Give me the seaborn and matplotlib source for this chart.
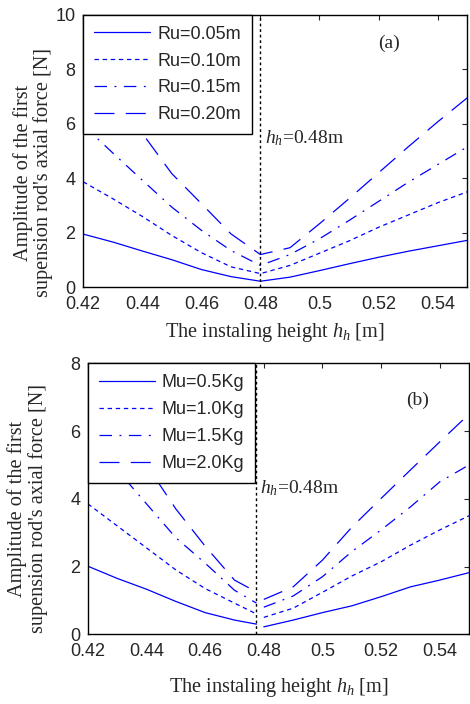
import numpy as np
import pandas as pd
import matplotlib
matplotlib.use('Agg')
import matplotlib.pyplot as plt
import seaborn as sns
from matplotlib.ticker import FuncFormatter

# panel (a): Ru varies, V shape with minimum at 0.48
x_a = [0.42, 0.43, 0.44, 0.45, 0.46, 0.47, 0.48, 0.49, 0.50, 0.51, 0.52, 0.53, 0.54, 0.55]
ru_labels = ['Ru=0.05m', 'Ru=0.10m', 'Ru=0.15m', 'Ru=0.20m']
ru_005 = [1.95, 1.66, 1.33, 1.01, 0.65, 0.39, 0.22, 0.37, 0.61, 0.86, 1.10, 1.32, 1.52, 1.72]
ru_010 = [3.87, 3.25, 2.60, 1.90, 1.27, 0.75, 0.50, 0.80, 1.25, 1.70, 2.20, 2.65, 3.10, 3.50]
ru_015 = [5.95, 4.93, 3.93, 2.94, 2.09, 1.35, 0.80, 1.20, 1.78, 2.45, 3.15, 3.85, 4.50, 5.15]
ru_020 = [8.00, 6.90, 5.65, 4.17, 3.07, 1.96, 1.20, 1.45, 2.33, 3.25, 4.20, 5.15, 6.07, 6.95]

# panel (b): Mu varies, left branch stops at 0.4775, right branch from 0.48
x_b_left = [0.42, 0.43, 0.44, 0.45, 0.46, 0.47, 0.4775]
x_b_right = [0.48, 0.49, 0.50, 0.51, 0.52, 0.53, 0.54, 0.55]
mu_labels = ['Mu=0.5Kg', 'Mu=1.0Kg', 'Mu=1.5Kg', 'Mu=2.0Kg']
mu_05_l = [2.01, 1.65, 1.33, 0.97, 0.64, 0.42, 0.30]
mu_05_r = [0.22, 0.42, 0.64, 0.84, 1.11, 1.40, 1.60, 1.82]
mu_10_l = [3.85, 3.20, 2.55, 1.90, 1.35, 0.92, 0.60]
mu_10_r = [0.50, 0.77, 1.24, 1.72, 2.14, 2.63, 3.08, 3.50]
mu_15_l = [5.90, 4.85, 3.85, 2.85, 2.10, 1.30, 0.92]
mu_15_r = [0.80, 1.13, 1.70, 2.44, 3.08, 3.76, 4.50, 5.00]
mu_20_l = [7.70, 6.30, 5.00, 3.70, 2.60, 1.60, 1.25]
mu_20_r = [1.03, 1.40, 2.19, 3.16, 4.01, 4.85, 5.68, 6.50]

x_ticks = [0.42, 0.44, 0.46, 0.48, 0.50, 0.52, 0.54]

sns.set_style('white')
plt.rcParams['font.family'] = ['Liberation Sans', 'DejaVu Sans']
plt.rcParams['mathtext.fontset'] = 'custom'
plt.rcParams['mathtext.rm'] = 'Liberation Serif'
plt.rcParams['mathtext.it'] = 'Liberation Serif:italic'

styles = ['-', (0, (3.5, 3)), (0, (10, 6, 1.5, 6)), (0, (16, 9))]
blue = (0.0, 0.0, 1.0)
serif = ['Liberation Serif', 'DejaVu Serif']

fig = plt.figure(figsize=(4.7, 7.04), dpi=100)
ax1 = fig.add_axes([0.177, 0.592, 0.817, 0.387])
ax2 = fig.add_axes([0.187, 0.099, 0.811, 0.385])

# top panel
for lab, ys, ls in zip(ru_labels, [ru_005, ru_010, ru_015, ru_020], styles):
    sns.lineplot(x=x_a, y=ys, ax=ax1, color=blue, lw=0.9, linestyle=ls, label=lab)

# bottom panel
left_b = [mu_05_l, mu_10_l, mu_15_l, mu_20_l]
right_b = [mu_05_r, mu_10_r, mu_15_r, mu_20_r]
for lab, yl, yr, ls in zip(mu_labels, left_b, right_b, styles):
    sns.lineplot(x=x_b_left, y=yl, ax=ax2, color=blue, lw=0.9, linestyle=ls, label=lab)
    sns.lineplot(x=x_b_right, y=yr, ax=ax2, color=blue, lw=0.9, linestyle=ls, legend=False)

def style_axis(ax, ymax, vline, txt_xy, tag, tag_xy, ylab_xy, xlab_xy):
    ax.set_xlim(0.42, 0.55)
    ax.set_ylim(0, ymax)
    ax.set_xticks(x_ticks)
    ax.set_yticks(np.arange(0, ymax + 1, 2))
    ax.xaxis.set_major_formatter(FuncFormatter(lambda v, p: '%g' % round(v, 2)))
    ax.tick_params(direction='in', length=3.6, width=0.8, labelsize=13,
                   top=True, right=True)
    ax.tick_params(axis='x', pad=6.5)
    ax.tick_params(axis='y', pad=5.5)
    for s in ax.spines.values():
        s.set_color('black')
        s.set_linewidth(1.0)
    ax.axvline(vline, color='black', lw=1.0, linestyle=(0, (2, 2)))
    ax.text(txt_xy[0], txt_xy[1], '$h_h$=0.48m', fontsize=14, family=serif, va='center')
    ax.text(tag_xy[0], tag_xy[1], tag, fontsize=14, family=serif, ha='center', va='center')
    ax.set_ylabel("Amplitude of the first\nsupension rod's axial force [N]",
                  fontsize=14.6, family=serif, linespacing=1.05)
    ax.yaxis.set_label_coords(*ylab_xy)
    ax.set_xlabel('The instaling height $h_h$ [m]', fontsize=14.6, family=serif)
    ax.xaxis.set_label_coords(*xlab_xy)
    leg = ax.legend(loc='upper left', borderaxespad=0, fancybox=False, fontsize=13,
                    handlelength=3.1, handletextpad=0.4, borderpad=0.6, labelspacing=0.55)
    leg.get_frame().set_edgecolor('black')
    leg.get_frame().set_linewidth(1.0)
    leg.get_frame().set_alpha(1)

style_axis(ax1, 10, 0.48, (0.4815, 5.47), '(a)', (0.5234, 8.97), (-0.078, 0.42), (0.5, -0.125))
style_axis(ax2, 8, 0.4775, (0.4788, 4.30), '(b)', (0.5325, 6.9), (-0.105, 0.463), (0.5, -0.152))

fig.savefig('out.png', dpi=100)
